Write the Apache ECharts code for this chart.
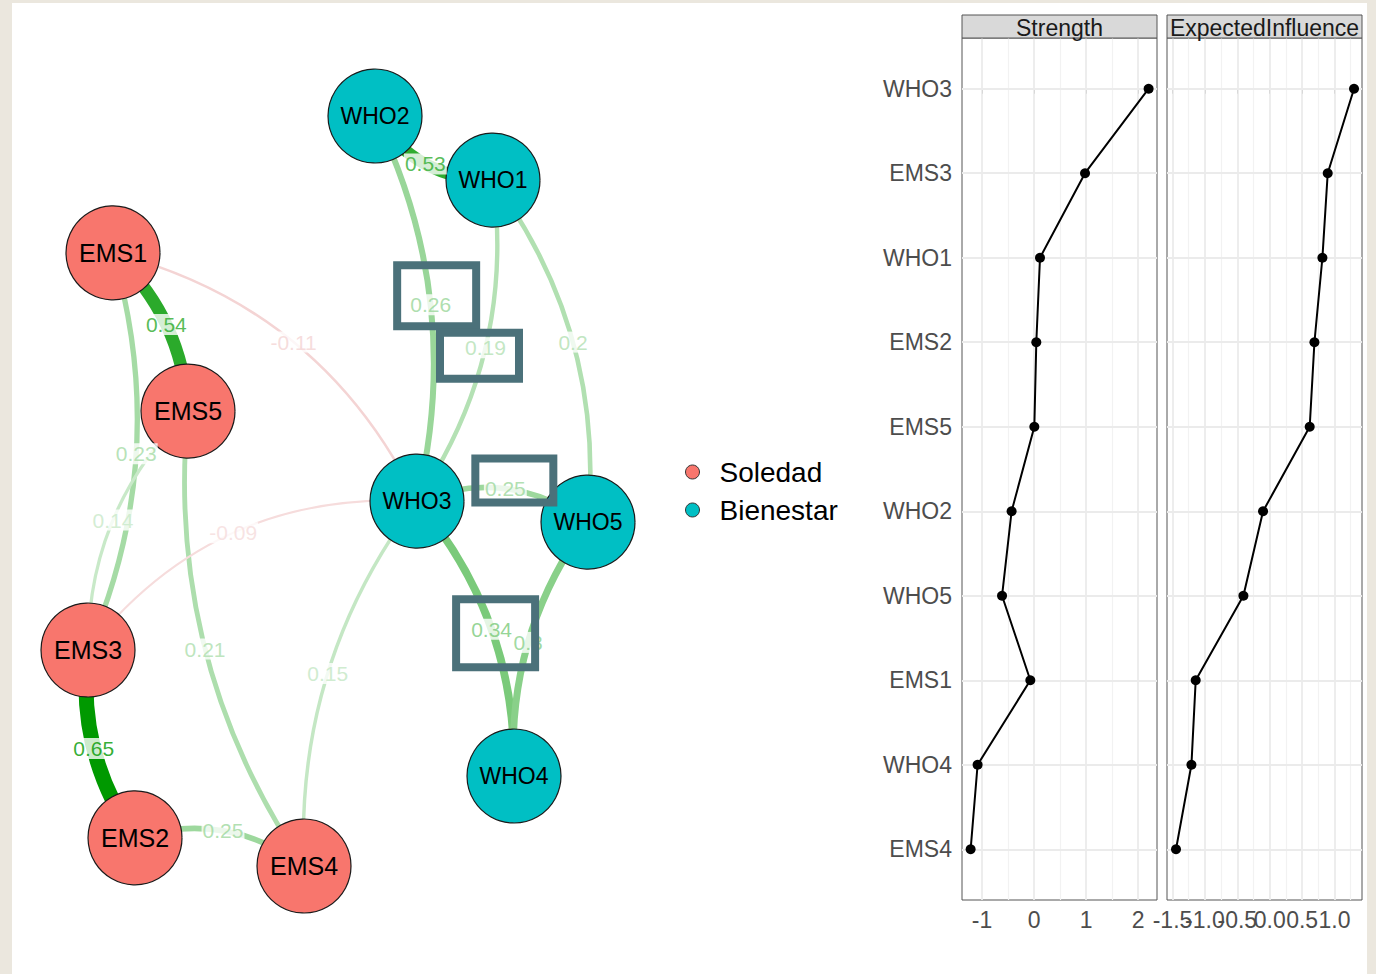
<!DOCTYPE html>
<html><head><meta charset="utf-8">
<script src="https://cdn.jsdelivr.net/npm/echarts@6/dist/echarts.min.js"></script>
<style>
html,body{margin:0;padding:0;background:#ebe7de;width:1376px;height:974px;overflow:hidden}
#paper{position:absolute;left:12px;top:3px;width:1355px;height:971px;background:#fff}
#chart{position:absolute;left:0;top:0;width:1376px;height:974px}
</style></head><body><div id="paper"></div><div id="chart"></div>
<script>
// ---------------- data ----------------
const nodeNames   = ['EMS1','EMS2','EMS3','EMS4','EMS5','WHO1','WHO2','WHO3','WHO4','WHO5'];
const nodeGroup   = ['Soledad','Soledad','Soledad','Soledad','Soledad','Bienestar','Bienestar','Bienestar','Bienestar','Bienestar'];
// network layout (qgraph-style, -1..1)
const nodeLayoutX = [-0.900,-0.812,-1.000,-0.136,-0.600, 0.620, 0.148, 0.316, 0.704, 1.000];
const nodeLayoutY = [ 0.635,-0.925,-0.424,-1.000, 0.213, 0.829, 1.000,-0.027,-0.760,-0.083];
const groupNames  = ['Soledad','Bienestar'];

const edgeFrom   = ['EMS1','EMS1','EMS5','EMS3','EMS2','EMS5','EMS4','EMS1','EMS3','WHO2','WHO2','WHO1','WHO1','WHO3','WHO3','WHO5'];
const edgeTo     = ['EMS5','EMS3','EMS3','EMS2','EMS4','EMS4','WHO3','WHO3','WHO3','WHO1','WHO3','WHO3','WHO5','WHO5','WHO4','WHO4'];
const edgeWeight = [0.54, 0.23, 0.14, 0.65, 0.25, 0.21, 0.15, -0.11, -0.09, 0.53, 0.26, 0.19, 0.2, 0.25, 0.34, 0.3];

const centralityNodes   = ['WHO3','EMS3','WHO1','EMS2','EMS5','WHO2','WHO5','EMS1','WHO4','EMS4'];
const strength          = [2.204, 0.981, 0.115, 0.044, 0.006, -0.431, -0.615, -0.071, -1.085, -1.219];
const expectedInfluence = [1.301, 0.895, 0.813, 0.690, 0.617, -0.103, -0.406, -1.142, -1.208, -1.446];
const strengthTicks = [-1, 0, 1, 2];
const eiTicks       = [-1.5, -1.0, -0.5, 0.0, 0.5, 1.0];
const facetTitles   = ['Strength', 'ExpectedInfluence'];

// ---------------- style / layout ----------------
const FONT = '"Liberation Sans", Arial, Helvetica, sans-serif';
const groupColors = ['#F8766D', '#00BFC4'];
const groupLabelSize = [25, 23];
const edgeCurve = [0.2, 0.18, -0.21, -0.19, 0.25, -0.18, 0.18, 0.23, 0.26, -0.27, 0.18, 0.19, 0.19, 0.27, 0.19, -0.18];
const annotations = [
  {edge: 10, w: 79, h: 61, dx: 6, dy: -9},
  {edge: 11, w: 79, h: 46, dx: -6, dy: 8},
  {edge: 13, w: 78, h: 44, dx: 9, dy: -8},
  {edge: 14, w: 79, h: 68, dx: 4, dy: 4}
];
const panelLeft = [962, 1167], panelTop = 38, panelW = 195, panelH = 862, stripTop = 15, stripH = 23;
const strengthRange = [-1.385, 2.365], eiRange = [-1.585, 1.424];

const posBase = [0, 153, 0], negBase = [191, 0, 0];
const maxW = Math.max(...edgeWeight.map(Math.abs));
function edgeColor(w) {
  const t = Math.abs(w) / maxW, b = w > 0 ? posBase : negBase;
  return 'rgb(' + b.map(c => Math.round(255 - (255 - c) * t)).join(',') + ')';
}
function edgeWidth(w) { return 15 * Math.abs(w) / maxW; }

function minorsOf(ticks, range) {
  const s = ticks[1] - ticks[0], out = [];
  for (let v = ticks[0] - s / 2; v <= range[1]; v += s) {
    if (v >= range[0]) out.push(+v.toFixed(4));
  }
  return out;
}
const MAJOR = {color: '#ebebeb', width: 1.8, type: 'solid'};
const MINOR = {color: '#f2f2f2', width: 1.2, type: 'solid'};
function gridLines(ticks, range) {
  return [
    ...minorsOf(ticks, range).map(v => ({xAxis: v, lineStyle: MINOR})),
    ...ticks.map(v => ({xAxis: v, lineStyle: MAJOR})),
    ...centralityNodes.map((c, i) => ({yAxis: i, lineStyle: MAJOR}))
  ];
}
const idx = centralityNodes.map((c, i) => i);

// the EI tick labels overlap (as in the reference); split them over two stacked
// bottom axes so that none of them is auto-hidden
const eiTicksA = eiTicks.filter((v, i) => i % 2 === 0);
const eiTicksB = eiTicks.filter((v, i) => i % 2 === 1);

function panelXAxis(gi, range, tickVals, labelVals, fmt) {
  return {
    gridIndex: gi, type: 'value', min: range[0], max: range[1], position: 'bottom', offset: 0,
    axisLine: {show: false}, splitLine: {show: false},
    axisTick: {show: tickVals.length > 0, length: 5, lineStyle: {color: '#333', width: 1}, customValues: tickVals.length ? tickVals : undefined},
    axisLabel: {customValues: labelVals, formatter: fmt, fontSize: 23, color: '#4d4d4d', fontFamily: FONT, margin: 8,
                showMinLabel: true, showMaxLabel: true, hideOverlap: false}
  };
}
function panelYAxis(gi, showLabels) {
  return {
    gridIndex: gi, type: 'value', min: -0.6, max: 9.6, inverse: true,
    axisLine: {show: false}, splitLine: {show: false},
    axisTick: {show: showLabels, length: 5, lineStyle: {color: '#333', width: 1}, customValues: idx},
    axisLabel: {show: showLabels, customValues: idx, formatter: v => centralityNodes[Math.round(v)] || '',
                fontSize: 23, color: '#4d4d4d', fontFamily: FONT, margin: 10, showMinLabel: true, showMaxLabel: true}
  };
}
function centralitySeries(gi, values, ticks, range) {
  return {
    type: 'line', xAxisIndex: gi, yAxisIndex: gi, z: 3,
    data: values.map((v, i) => [v, i]),
    symbol: 'circle', symbolSize: 10, showSymbol: true,
    itemStyle: {color: '#000'}, lineStyle: {color: '#000', width: 2},
    emphasis: {disabled: true}, silent: true,
    markLine: {silent: true, z: 1, symbol: ['none', 'none'], label: {show: false}, animation: false,
               emphasis: {disabled: true}, data: gridLines(ticks, range)}
  };
}

const stripGraphics = [];
facetTitles.forEach((t, k) => {
  stripGraphics.push({type: 'rect', shape: {x: panelLeft[k], y: stripTop, width: panelW, height: stripH},
    style: {fill: '#d9d9d9', stroke: '#555', lineWidth: 1}, z: 10});
  stripGraphics.push({type: 'text', x: panelLeft[k] + panelW / 2, y: stripTop + stripH / 2 + 1.5,
    style: {text: t, fontSize: 23, fontFamily: FONT, fill: '#1a1a1a', textAlign: 'center', textVerticalAlign: 'middle'}, z: 11});
});

const chart = echarts.init(document.getElementById('chart'), null, {renderer: 'svg', width: 1376, height: 974});
chart.setOption({
  animation: false,
  backgroundColor: 'transparent',
  textStyle: {fontFamily: FONT},
  grid: [
    {left: panelLeft[0], top: panelTop, width: panelW, height: panelH, show: true, borderColor: '#555', borderWidth: 1, backgroundColor: '#fff'},
    {left: panelLeft[1], top: panelTop, width: panelW, height: panelH, show: true, borderColor: '#555', borderWidth: 1, backgroundColor: '#fff'},
    {left: 88, top: 116, width: 500, height: 750, show: false}
  ],
  xAxis: [
    panelXAxis(0, strengthRange, strengthTicks, strengthTicks, v => String(Math.round(v))),
    panelXAxis(1, eiRange, eiTicks, eiTicksA, v => Number(v).toFixed(1)),
    {gridIndex: 2, type: 'value', min: -1, max: 1, show: false},
    panelXAxis(1, eiRange, [], eiTicksB, v => Number(v).toFixed(1))
  ],
  yAxis: [
    panelYAxis(0, true),
    panelYAxis(1, false),
    {gridIndex: 2, type: 'value', min: -1, max: 1, show: false}
  ],
  legend: {
    data: groupNames, orient: 'vertical', left: 680, top: 453, icon: 'circle',
    itemWidth: 44, itemHeight: 14, itemGap: 10,
    itemStyle: {borderColor: '#333', borderWidth: 1},
    textStyle: {fontSize: 28, color: '#000', fontFamily: FONT, lineHeight: 28},
    selectedMode: false
  },
  graphic: stripGraphics,
  series: [
    centralitySeries(0, strength, strengthTicks, strengthRange),
    centralitySeries(1, expectedInfluence, eiTicks, eiRange),
    {
      id: 'network', type: 'graph', coordinateSystem: 'cartesian2d', xAxisIndex: 2, yAxisIndex: 2,
      layout: 'none', roam: false, silent: true, z: 2,
      categories: groupNames.map((g, i) => ({name: g, itemStyle: {color: groupColors[i]}})),
      symbol: 'circle', symbolSize: 94,
      itemStyle: {borderColor: '#1a1a1a', borderWidth: 1.2},
      label: {show: true, position: 'inside', color: '#000', fontSize: 23, fontFamily: FONT},
      lineStyle: {opacity: 1},
      emphasis: {disabled: true},
      data: nodeNames.map((n, i) => {
        const g = groupNames.indexOf(nodeGroup[i]);
        return {name: n, value: [nodeLayoutX[i], nodeLayoutY[i]], category: g,
                label: {fontSize: groupLabelSize[g]}};
      }),
      links: edgeFrom.map((f, i) => ({
        source: f, target: edgeTo[i], value: edgeWeight[i],
        lineStyle: {width: edgeWidth(edgeWeight[i]), color: edgeColor(edgeWeight[i]), curveness: edgeCurve[i], opacity: 1}
      }))
    },
    {
      id: 'edgeLabels', type: 'scatter', xAxisIndex: 2, yAxisIndex: 2, z: 4, silent: true,
      symbolSize: 1, itemStyle: {color: 'transparent'},
      label: {show: true, position: 'inside', fontSize: 21, fontFamily: FONT, backgroundColor: '#fff',
              padding: [0, 1], formatter: p => p.name},
      data: []
    }
  ]
});

// edge labels at curve midpoints (same quadratic curve as ECharts uses)
function nodePx(name) {
  const i = nodeNames.indexOf(name);
  return chart.convertToPixel({gridIndex: 2}, [nodeLayoutX[i], nodeLayoutY[i]]);
}
const labelPx = edgeFrom.map((f, i) => {
  const p1 = nodePx(f), p2 = nodePx(edgeTo[i]), c = edgeCurve[i];
  const dx = p2[0] - p1[0], dy = p2[1] - p1[1];
  const cp = [(p1[0] + p2[0]) / 2 + c * dy, (p1[1] + p2[1]) / 2 - c * dx];
  return [0.25 * p1[0] + 0.5 * cp[0] + 0.25 * p2[0], 0.25 * p1[1] + 0.5 * cp[1] + 0.25 * p2[1]];
});
const labelData = edgeWeight.map((w, i) => ({
  name: String(w),
  value: chart.convertFromPixel({gridIndex: 2}, labelPx[i]),
  label: {color: edgeColor(w)}
}));
const boxGraphics = annotations.map(a => {
  const p = labelPx[a.edge];
  return {type: 'rect', z: 50,
    shape: {x: p[0] + a.dx - a.w / 2, y: p[1] + a.dy - a.h / 2, width: a.w, height: a.h},
    style: {fill: 'none', stroke: '#4b717a', lineWidth: 8}};
});
chart.setOption({
  series: [{id: 'edgeLabels', data: labelData}],
  graphic: stripGraphics.concat(boxGraphics)
});
</script></body></html>
